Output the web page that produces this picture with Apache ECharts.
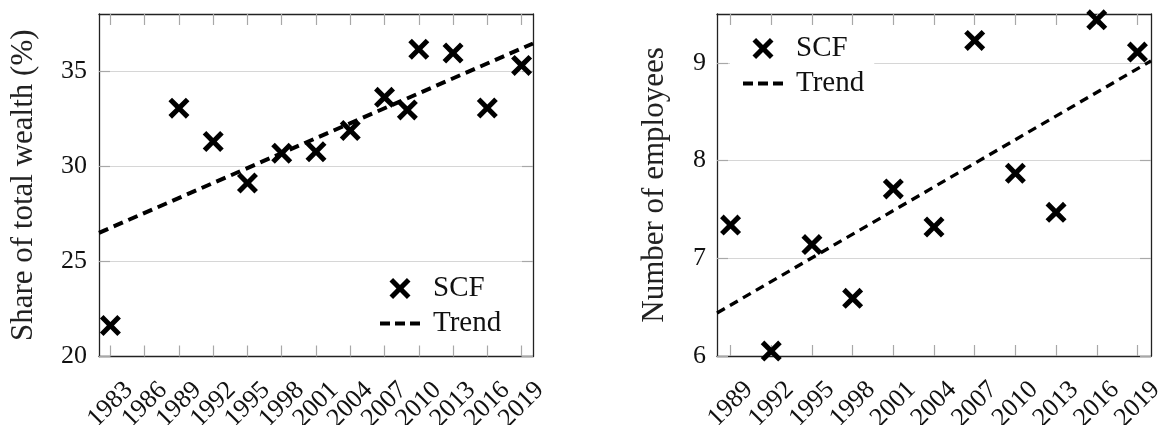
<!DOCTYPE html>
<html>
<head>
<meta charset="utf-8">
<script src="https://cdn.jsdelivr.net/npm/echarts@6/dist/echarts.min.js"></script>
<style>
  html, body { margin: 0; padding: 0; background: #fff; }
  #chart { width: 1162px; height: 425px; }
</style>
</head>
<body>
<div id="chart"></div>
<script>
// Survey years and values for the wealth-share panel
const wealthYears = [1983, 1989, 1992, 1995, 1998, 2001, 2004, 2007, 2009, 2010, 2013, 2016, 2019];
const wealthShare = [21.63, 33.05, 31.3, 29.12, 30.68, 30.76, 31.88, 33.62, 32.96, 36.15, 35.95, 33.06, 35.3];
const wealthTrendYears = [1982, 2020];
const wealthTrend = [26.5, 36.45];
const wealthTickYears = [1983, 1986, 1989, 1992, 1995, 1998, 2001, 2004, 2007, 2010, 2013, 2016, 2019];
const wealthTickValues = [20, 25, 30, 35];

// Survey years and values for the employees panel
const employeeYears = [1989, 1992, 1995, 1998, 2001, 2004, 2007, 2010, 2013, 2016, 2019];
const employees = [7.34, 6.05, 7.14, 6.59, 7.71, 7.32, 9.23, 7.87, 7.47, 9.44, 9.11];
const employeeTrendYears = [1988, 2020];
const employeeTrend = [6.44, 9.02];
const employeeTickYears = [1989, 1992, 1995, 1998, 2001, 2004, 2007, 2010, 2013, 2016, 2019];
const employeeTickValues = [6, 7, 8, 9];

const FONT = '"Liberation Serif", "DejaVu Serif", serif';
const INK = '#111';
const TICK = '#a8a8a8';
const FRAME = '#222';

// thick "x" mark
const CROSS = 'path://M0,17 L17,0 L50,33 L83,0 L100,17 L67,50 L100,83 L83,100 L50,67 L17,100 L0,83 L33,50 Z';
// three short dashes for the trend entry in the legend
const DASHES = 'path://M0,0 H10 V4.2 H0 Z M15,0 H25 V4.2 H15 Z M30,0 H40 V4.2 H30 Z';

function pairs(xs, ys) { return xs.map((x, i) => [x, ys[i]]); }

function yearLabel(values) {
  return {
    show: true, customValues: values, rotate: 45, margin: 48,
    align: 'center', verticalAlign: 'middle',
    showMinLabel: true, showMaxLabel: true, hideOverlap: false,
    fontFamily: FONT, fontSize: 26, color: INK,
    formatter: v => String(v)
  };
}

// Bottom axis (ticks + every other year label), a label-only twin for the
// remaining years so the tightly packed rotated labels are all kept, and a
// mirrored top axis carrying ticks only.
function xAxes(gridIndex, min, max, ticks) {
  const line = { show: true, lineStyle: { color: FRAME, width: 1.3 } };
  const even = ticks.filter((_, i) => i % 2 === 0);
  const odd = ticks.filter((_, i) => i % 2 === 1);
  return [
    {
      type: 'value', gridIndex, min, max, position: 'bottom', offset: 0,
      axisLine: line,
      axisTick: { show: true, inside: true, length: 11, customValues: ticks, lineStyle: { color: TICK, width: 1.2 } },
      axisLabel: yearLabel(even),
      splitLine: { show: false }
    },
    {
      type: 'value', gridIndex, min, max, position: 'bottom', offset: 0,
      axisLine: { show: false },
      axisTick: { show: false },
      axisLabel: yearLabel(odd),
      splitLine: { show: false }
    },
    {
      type: 'value', gridIndex, min, max, position: 'top',
      axisLine: line,
      axisTick: { show: true, inside: true, length: 11, customValues: ticks, lineStyle: { color: TICK, width: 1.2 } },
      axisLabel: { show: false },
      splitLine: { show: false }
    }
  ];
}

function yAxes(gridIndex, min, max, interval, ticks, name, nameGap, margin) {
  const line = { show: true, lineStyle: { color: FRAME, width: 1.3 } };
  return [
    {
      type: 'value', gridIndex, min, max, interval, position: 'left',
      name, nameLocation: 'middle', nameGap,
      nameTextStyle: { fontFamily: FONT, fontSize: 31, color: '#222' },
      axisLine: line,
      axisTick: { show: true, inside: true, length: 11, customValues: ticks, lineStyle: { color: TICK, width: 1.2 } },
      axisLabel: {
        show: true, customValues: ticks, margin,
        fontFamily: FONT, fontSize: 26, color: INK,
        formatter: v => (ticks.indexOf(v) >= 0 ? String(v) : '')
      },
      splitLine: { show: true, lineStyle: { color: '#d6d6d6', width: 1.2 } }
    },
    {
      type: 'value', gridIndex, min, max, interval, position: 'right',
      axisLine: line,
      axisTick: { show: true, inside: true, length: 11, customValues: ticks, lineStyle: { color: TICK, width: 1.2 } },
      axisLabel: { show: false },
      splitLine: { show: false }
    }
  ];
}

function legend(left, top) {
  return {
    orient: 'vertical', left, top,
    data: [
      { name: 'SCF', icon: CROSS, itemStyle: { color: '#000', opacity: 1 } },
      { name: 'Trend', icon: DASHES, itemStyle: { color: '#000', opacity: 1 } }
    ],
    itemWidth: 40, itemHeight: 21, itemGap: 6,
    padding: [4, 10, 4, 13],
    backgroundColor: '#fff',
    selectedMode: false,
    textStyle: { fontFamily: FONT, fontSize: 29, color: INK, lineHeight: 28, padding: [0, 0, 0, 8] }
  };
}

const chart = echarts.init(document.getElementById('chart'), null, { renderer: 'canvas' });

chart.setOption({
  animation: false,
  backgroundColor: '#fff',
  grid: [
    { left: 99, top: 14, width: 434, height: 342.5, containLabel: false, outerBoundsMode: 'none' },
    { left: 717, top: 14, width: 434, height: 342, containLabel: false, outerBoundsMode: 'none' }
  ],
  xAxis: [
    ...xAxes(0, 1982, 2020, wealthTickYears),
    ...xAxes(1, 1988, 2020, employeeTickYears)
  ],
  yAxis: [
    ...yAxes(0, 20, 38, 5, wealthTickValues, 'Share of total wealth (%)', 60, 12),
    ...yAxes(1, 6, 9.5, 1, employeeTickValues, 'Number of employees', 47, 11)
  ],
  legend: [legend(367, 270), legend(730, 30)],
  series: [
    {
      name: 'Trend', type: 'line', xAxisIndex: 0, yAxisIndex: 0,
      data: pairs(wealthTrendYears, wealthTrend),
      symbol: 'none', z: 2,
      lineStyle: { color: '#000', width: 4, type: [10, 6], cap: 'butt' },
      itemStyle: { color: '#000' }
    },
    {
      name: 'SCF', type: 'scatter', xAxisIndex: 0, yAxisIndex: 0,
      data: pairs(wealthYears, wealthShare),
      symbol: CROSS, symbolSize: 21, clip: false, z: 3,
      itemStyle: { color: '#000', opacity: 1 }
    },
    {
      name: 'Trend', type: 'line', xAxisIndex: 3, yAxisIndex: 2,
      data: pairs(employeeTrendYears, employeeTrend),
      symbol: 'none', z: 2,
      lineStyle: { color: '#000', width: 3.3, type: [9, 6], cap: 'butt' },
      itemStyle: { color: '#000' }
    },
    {
      name: 'SCF', type: 'scatter', xAxisIndex: 3, yAxisIndex: 2,
      data: pairs(employeeYears, employees),
      symbol: CROSS, symbolSize: 21, clip: false, z: 3,
      itemStyle: { color: '#000', opacity: 1 }
    }
  ]
});
</script>
</body>
</html>
